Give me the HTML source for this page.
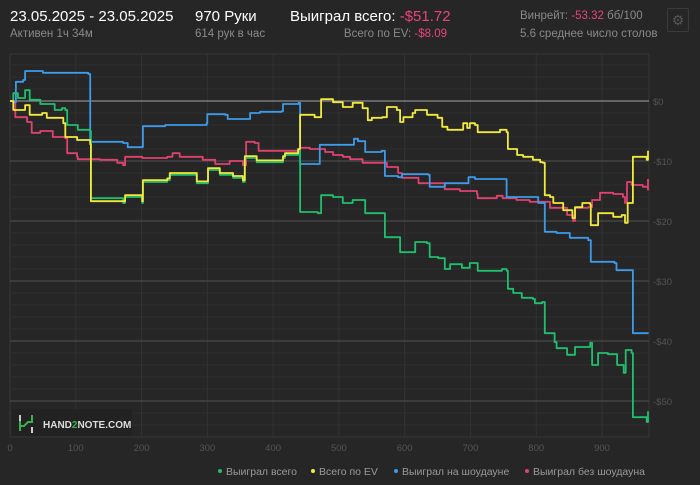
<!DOCTYPE html>
<html><head><meta charset="utf-8"><style>
body{margin:0;background:#262626;width:700px;height:485px;overflow:hidden;font-family:"Liberation Sans",sans-serif;}
.t{position:absolute;white-space:nowrap;}
</style></head><body>
<div class="t" style="left:10px;top:8px;font-size:15px;color:#fff">23.05.2025 - 23.05.2025</div>
<div class="t" style="left:10px;top:28px;font-size:11.5px;color:#8a8a8a">Активен 1ч 34м</div>
<div class="t" style="left:195px;top:8px;font-size:15px;color:#fff">970 Руки</div>
<div class="t" style="left:195px;top:28px;font-size:11.5px;color:#8a8a8a">614 рук в час</div>
<div class="t" style="left:290px;top:8px;font-size:15px;color:#fff">Выиграл всего: <span style="color:#e8457a">-$51.72</span></div>
<div class="t" style="right:253px;top:28px;font-size:11.5px;color:#8a8a8a">Всего по EV: <span style="color:#e8457a">-$8.09</span></div>
<div class="t" style="left:520px;top:10px;font-size:11.5px;color:#8a8a8a">Винрейт: <span style="color:#e8457a">-53.32</span> бб/100</div>
<div class="t" style="left:520px;top:28px;font-size:11.5px;color:#8a8a8a">5.6 среднее число столов</div>
<div class="t" style="left:667px;top:8px;width:20px;height:22px;border:1px solid #3a3a3a;border-radius:2px;color:#555;font-size:14px;text-align:center;line-height:22px">⚙</div>
<svg id="chart" width="700" height="485" style="position:absolute;left:0;top:0"></svg>
<script>
const xTicks=[0,100,200,300,400,500,600,700,800,900];
const yTicks=[0,-10,-20,-30,-40,-50];
const yTickLabels=["$0","-$10","-$20","-$30","-$40","-$50"];
const greenHands=[0,5,12,23,30,46,68,79,84,87,103,122,123,172,175,201,202,239,243,284,301,319,339,354,357,375,415,418,438,441,468,473,491,506,521,540,565,570,593,616,634,638,651,661,669,687,699,711,748,755,757,765,778,795,798,809,813,828,831,847,859,882,885,894,909,923,933,936,945,947,968,970];
const greenVals=[0,1.3,0.5,1.8,0.2,-0.5,-1.5,-1.2,-1.5,-4,-4.8,-5,-16.2,-17,-16,-17,-13.5,-13.2,-12.3,-13.7,-11.5,-12.3,-12.8,-13.5,-9.5,-10.2,-9.5,-9,-8.3,-18.5,-18.7,-15.7,-16,-17,-16.5,-18.7,-18.7,-22.7,-25.2,-23.5,-23.7,-26,-26.2,-28,-27.2,-27.8,-27,-28.3,-28,-28.3,-31.3,-32,-32.8,-33,-33.7,-33.5,-38.7,-40.2,-41.2,-42.3,-41,-40.3,-44,-42,-42.2,-44,-45.3,-41.5,-42,-52.7,-53.5,-51.7];
const yellowHands=[0,5,23,30,49,56,81,84,102,122,123,175,201,202,239,243,284,301,319,339,354,357,375,415,418,438,441,463,473,491,506,521,536,544,550,566,573,588,593,598,612,616,634,650,657,665,689,695,699,707,711,745,755,757,771,780,795,806,810,813,821,826,841,855,859,870,882,883,894,917,930,935,939,947,968,970];
const yellowVals=[0,-1.5,-0.7,-2.3,-2,-2.8,-3.7,-6,-6.5,-7.2,-16.7,-15.7,-16.7,-13.2,-12.9,-12,-13.4,-11.2,-12,-12.5,-13.2,-9.2,-9.9,-9.2,-8.7,-8,-2.3,-2.7,0.3,-0.2,-1,-0.3,-1.2,-3.2,-2.8,-2.7,-1,-1.5,-3.5,-2.7,-2,-1.5,-2.3,-2.8,-4.3,-4.8,-3.7,-4.5,-3.7,-4,-5.2,-4.8,-5.2,-8,-9,-9.3,-9.8,-10.2,-10.3,-15.7,-16,-17,-18.2,-19.5,-17.7,-17,-17.3,-20.7,-18.7,-19.3,-19,-20.3,-17,-9.3,-9.8,-8.3];
const blueHands=[0,5,9,20,23,49,50,119,122,172,179,201,202,236,299,300,327,331,362,365,380,413,415,439,441,467,471,517,523,529,540,565,570,590,596,636,638,661,695,697,707,752,755,795,803,810,813,831,851,879,883,919,922,945,947,970];
const blueVals=[0,-0.2,3.2,3.5,5,5,4.7,4.5,-6.8,-7,-7.7,-7.7,-4.2,-4,-3.7,-2.2,-2.3,-3,-3,-2,-1.8,-1.7,-0.5,-0.3,-10.5,-10.5,-7.3,-7.3,-6.3,-6.7,-8.5,-8.3,-12.5,-12.7,-12.2,-12.3,-14.3,-13.7,-13.7,-12.7,-13,-13,-16,-16,-17,-17,-21.8,-22,-22.8,-23.2,-26.8,-27,-28.2,-28.2,-38.7,-38.8];
const redHands=[0,5,8,26,33,46,65,84,87,102,103,137,163,172,175,201,239,247,258,293,312,334,354,359,372,378,421,441,456,479,491,506,517,536,550,567,573,590,596,621,638,651,661,684,710,711,740,749,770,790,810,821,847,856,859,879,885,894,897,917,932,935,938,945,962,970,970];
const redVals=[0,-0.2,-2.7,-3.5,-5.3,-5,-6,-6.2,-8.7,-9.3,-9.7,-9.8,-10.3,-10.7,-9.3,-9.5,-9.3,-8.7,-9.3,-9.8,-10.5,-10,-10.7,-6.8,-7,-8.3,-8.3,-7.8,-8,-8.5,-9,-9.3,-9.7,-10.3,-10.3,-10.3,-11,-12,-12.8,-13.7,-13.7,-13.7,-14.7,-15,-15.5,-16.2,-15.8,-16.2,-16.5,-16.8,-16.8,-17.8,-19,-20,-17.8,-17.7,-16.5,-16.5,-15.3,-15.5,-16,-17,-13.5,-14,-14.3,-14.8,-13];
const legendLabels=["Выиграл всего","Всего по EV","Выиграл на шоудауне","Выиграл без шоудауна"];
const colors=["#1fbf6e","#f2ea3a","#3d9be9","#e0426f"];

const X0=10,X1=649,Y0=54,Y1=437;
const xs=h=>X0+h*(592/900);
const ys=v=>101-v*6;
const svg=document.getElementById('chart');
const NS='http://www.w3.org/2000/svg';
function mk(tag,attrs,parent){const e=document.createElementNS(NS,tag);for(const k in attrs)e.setAttribute(k,attrs[k]);(parent||svg).appendChild(e);return e;}
for(let v=6;v>=-56;v-=2){
  if(v%10===0)continue;
  const l=mk('line',{x1:X0,x2:X1,y1:ys(v),y2:ys(v),stroke:'#2f2f2f','stroke-width':1});
  
  
}
xTicks.forEach(t=>{
  const l=mk('line',{x1:xs(t),x2:xs(t),y1:Y0,y2:Y1,stroke:'#323232','stroke-width':1});
  
  
  const tx=mk('text',{x:xs(t),y:451,fill:'#555','font-size':9.5,'text-anchor':'middle','font-family':'Liberation Sans'});
  tx.textContent=t;
  
  
});
const fr=mk('rect',{x:X0,y:Y0,width:X1-X0,height:Y1-Y0,fill:'none',stroke:'#353535'});


yTicks.forEach((t,i)=>{
  const l=mk('line',{x1:X0,x2:X1,y1:ys(t),y2:ys(t),stroke:t===0?'#8a8a8a':'#4a4a4a','stroke-width':t===0?1.3:1.2});
  
  
  const tx=mk('text',{x:653,y:ys(t)+4,fill:'#555','font-size':9.5,'font-family':'Liberation Sans'});
  tx.textContent=yTickLabels[i];
  
  
});
const wm=mk('g',{});


mk('rect',{x:12,y:409,width:120,height:27,fill:'#222'},wm);
mk('path',{d:'M20 415v6 M32 427v6',stroke:'#ccc','stroke-width':2,fill:'none'},wm);
mk('path',{d:'M20 421v10 M20 426h4l4-4h4v-7',stroke:'#3cb04a','stroke-width':2,fill:'none'},wm);
const wt=mk('text',{x:43,y:428,fill:'#ddd','font-size':10,'font-weight':'bold','font-family':'Liberation Sans'},wm);
wt.innerHTML='HAND<tspan fill="#3cb04a">2</tspan>NOTE.COM';
const series=[[greenHands,greenVals,'series-won-total'],[yellowHands,yellowVals,'series-ev-total'],[blueHands,blueVals,'series-won-showdown'],[redHands,redVals,'series-won-no-showdown']];
[3,2,0,1].forEach(i=>{
  const [hs,vs,name]=series[i];
  let d='M'+xs(hs[0]).toFixed(1)+' '+ys(vs[0]).toFixed(1);
  for(let j=1;j<hs.length;j++){
    d+=' H'+xs(hs[j]).toFixed(1)+' V'+ys(vs[j]).toFixed(1);
  }
  const p=mk('path',{d:d,fill:'none',stroke:colors[i],'stroke-width':1.8,'stroke-linejoin':'round'});
  
  
});
let lx=[220,313,396,527];
legendLabels.forEach((lab,i)=>{
  const g=mk('g',{});
  
  
  mk('circle',{cx:lx[i],cy:471,r:2,fill:colors[i]},g);
  const t=mk('text',{x:lx[i]+6,y:475,fill:'#9a9a9a','font-size':10.5,'font-family':'Liberation Sans'},g);
  t.textContent=lab;
});
</script>
</body></html>
